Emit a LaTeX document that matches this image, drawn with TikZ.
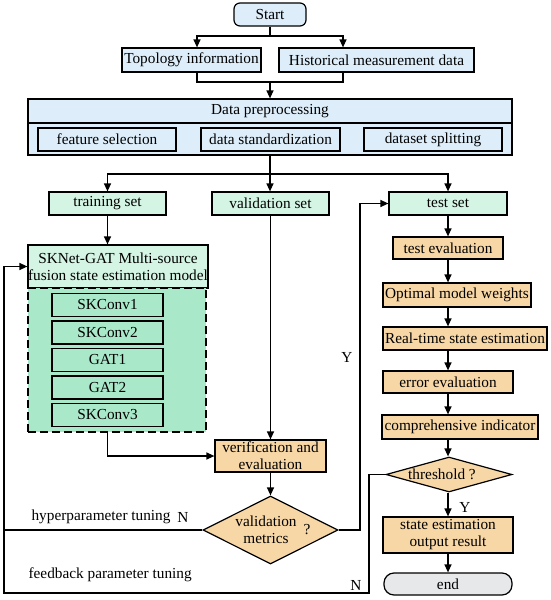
\documentclass[tikz,border=0pt]{standalone}
\usepackage{fontspec}
\setmainfont{Liberation Serif}
\usetikzlibrary{arrows.meta,shapes.geometric}
\definecolor{startblue}{HTML}{DDEEFA}
\definecolor{setgreen}{HTML}{D4F4E4}
\definecolor{modelgreen}{HTML}{AAE8CA}
\definecolor{evalorange}{HTML}{F8D7A6}
\definecolor{endgray}{HTML}{E6E8EA}

\begin{document}
\begin{tikzpicture}[
  x=1pt, y=-1pt,
  >={Triangle[length=8pt,width=7pt]},
  line width=1.2pt,
  font=\fontsize{15.3}{17}\selectfont,
  box/.style={draw, line width=1.2pt, inner sep=0pt, align=center, minimum height=23pt},
  bluebox/.style={box, fill=startblue},
  greenbox/.style={box, fill=setgreen},
  modelbox/.style={box, fill=modelgreen},
  orangebox/.style={box, fill=evalorange},
  decision/.style={draw, diamond, line width=1.2pt, inner sep=0pt, fill=evalorange},
  tag/.style={inner sep=1pt}
]
\useasboundingbox (0,0) rectangle (550,600);

% top part
\node[bluebox, rounded corners=6pt, minimum width=72pt] (start) at (270,14.5) {Start};
\node[bluebox, minimum width=139pt, minimum height=24pt] (topo) at (191.5,60) {Topology information};
\node[bluebox, minimum width=195pt, minimum height=24pt] (hist) at (376.5,60) {Historical measurement data};
\node[bluebox, minimum width=484pt, minimum height=24pt] (prep) at (270,111) {Data preprocessing};
\node[bluebox, minimum width=484pt, minimum height=32pt] (prepbody) at (270,139) {};
\node[bluebox, minimum width=138pt] (featsel) at (107,139.5) {feature selection};
\node[bluebox, minimum width=139pt] (datastd) at (270.5,139.5) {data standardization};
\node[bluebox, minimum width=138pt] (dsplit) at (433,139.5) {dataset splitting};

\coordinate (forkL) at (197,36);
\coordinate (forkR) at (343,36);
\coordinate (joinM) at (270,82);
\coordinate (splitM) at (270,174);
\draw[->] (start.south) |- (forkL) -- (forkL |- topo.north);
\draw[->] (start.south) |- (forkR) -- (forkR |- hist.north);
\draw (forkL |- topo.south) |- (joinM) -| (forkR |- hist.south);
\draw[->] (joinM) -- (prep.north);

% data sets
\node[greenbox, minimum width=117pt] (train) at (107.5,203.5) {training set};
\node[greenbox, minimum width=117pt] (valid) at (270.5,203.5) {validation set};
\node[greenbox, minimum width=118pt] (test) at (448,203.5) {test set};
\draw (prepbody.south) -- (splitM);
\draw[->] (splitM) -| (train.north);
\draw[->] (splitM) -| (test.north);
\draw[->] (splitM) -- (splitM |- valid.north);

% model
\node[greenbox, minimum width=180pt, minimum height=43pt] (model) at (118,266.5) {SKNet-GAT Multi-source\\fusion state estimation model};
\node[modelbox, dash pattern=on 8pt off 4pt, line width=1.8pt, minimum width=178pt, minimum height=144pt] (modelbody) at (117,360) {};
\foreach \n/\t/\y in {sk1/SKConv1/305, sk2/SKConv2/332.5, gat1/GAT1/360, gat2/GAT2/387.5, sk3/SKConv3/415}
  \node[modelbox, minimum width=111pt, minimum height=23pt] (\n) at (107.5,\y) {\t};
\draw[->] (train.south) -- (train.south |- model.north);

% validation branch
\node[orangebox, minimum width=111pt, minimum height=32pt] (verif) at (270.5,456) {verification and\\evaluation};
\node[decision, minimum width=135pt, minimum height=68pt] (metric) at (270.5,530) {};
\node[tag, align=center] (metrictxt) at (266,530) {validation\\metrics};
\node[tag] (metricq) at (307,530) {?};
\draw[->] (valid.south) -- (valid.south |- verif.north);
\draw[->] (modelbody.south -| sk3) |- (verif.west);
\draw[->] (verif) -- (metric);

% test branch
\node[orangebox, minimum width=110pt, minimum height=22pt] (teval) at (448,248) {test evaluation};
\node[orangebox, minimum width=148pt, minimum height=24pt] (optw) at (457,295) {Optimal model weights};
\node[orangebox, minimum width=164pt] (rtse) at (465,338.5) {Real-time state estimation};
\node[orangebox, minimum width=130pt, minimum height=22pt] (erre) at (448,382) {error evaluation};
\node[orangebox, minimum width=156pt, minimum height=24pt] (comp) at (460,427) {comprehensive indicator};
\node[decision, minimum width=126pt, minimum height=35pt] (thresh) at (449,474.5) {};
\node[tag] (threshtxt) at (442,474.5) {threshold ?};
\node[orangebox, minimum width=130pt, minimum height=36pt] (out) at (448,535) {state estimation\\output result};
\node[box, fill=endgray, rounded corners=10pt, minimum width=128pt, minimum height=22pt] (finish) at (448,584) {end};
\foreach \a/\b in {test/teval, teval/optw, optw/rtse, rtse/erre, erre/comp, comp/thresh, thresh/out, out/finish}
  \draw[->] (\a.south -| test) -- (test |- \b.north);

% feedback loops
\coordinate (lftTop) at (4,266.5);
\coordinate (lftBot) at (4,593);
\coordinate (fbR) at (369,593);
\coordinate (yesR) at (360,529);
\draw[->] (metric.east) -- (metric.east -| yesR) |- (test.west);
\draw (metric.west) -- (metric.west -| lftTop);
\draw[->] (thresh.west) -- (thresh.west -| fbR) -- (fbR) -- (lftBot) -- (lftTop) -- (model.west);

\node[tag] (ylab) at (347,357) {Y};
\node[tag] (ylab2) at (465,507) {Y};
\node[tag, anchor=west] (hyper) at (30,517) {hyperparameter tuning};
\node[tag] (hyperN) at (183,517) {N};
\node[tag, anchor=west] (feedback) at (27,575) {feedback parameter tuning};
\node[tag] (feedN) at (356,585) {N};
\end{tikzpicture}
\end{document}
